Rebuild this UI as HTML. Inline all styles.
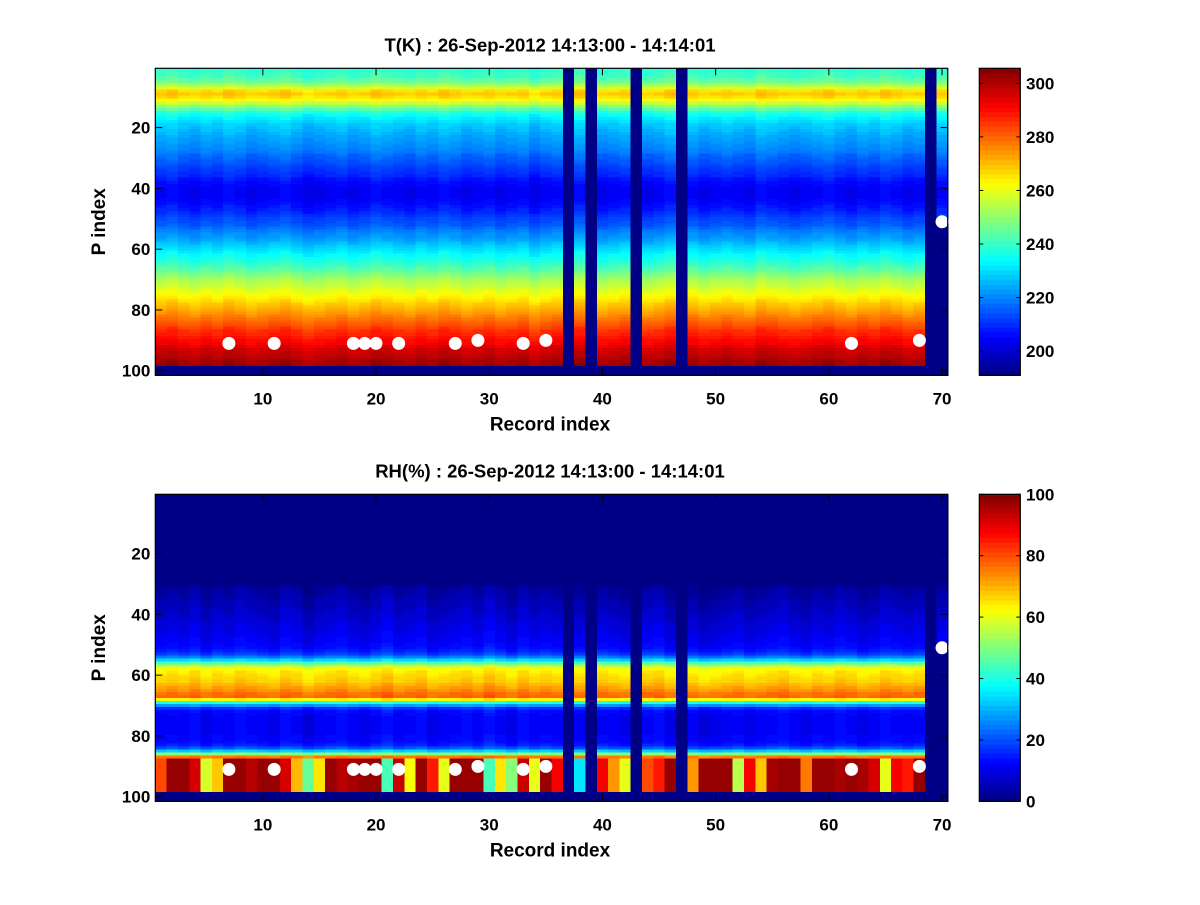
<!DOCTYPE html>
<html><head><meta charset="utf-8"><style>
html,body{margin:0;padding:0;background:#fff;}
svg text{font-family:"Liberation Sans",sans-serif;font-weight:bold;fill:#000;}
</style></head><body>
<svg id="fig" xmlns="http://www.w3.org/2000/svg" width="1200" height="900" viewBox="0 0 1200 900">
<rect width="1200" height="900" fill="#fff"/>
</svg>
<script>
// ---- data ----
const records = Array.from({length:70},(_,i)=>i+1);
const missingCols = [37,39,43,47,69];
const col70LastRow = 51;
const tProfile = [239,240,241,243,246,252,258,266,268,266,262,256,249,243,238,234,232,230,228,227,
226,225,224,223,222,221,220,219,217,216,215,214,212,211,210,209,207,206,205,204,
204,204,204,205,206,207,208,209,211,213,214,215,217,219,221,222,224,226,228,230,
232,234,236,238,240,242,244,247,250,252,254,256,258,260,262,264,266,268,270,272,
274,276,278,280,282,284,286,287,289,291,292,294,296,297,298,300,301,302];
const tColOffset = [1,2,0,-1,1,0,2,1,-1,0,1,2,0,-2,-1,0,1,-1,0,2,1,0,-1,1,0,2,1,-1,0,1,
-1,0,1,-2,0,1,0,2,0,-1,0,1,0,-1,0,2,0,1,-1,0,1,0,-1,2,1,0,-1,0,1,2,0,-1,1,0,2,1,-1,0,0,1];
const rhProfile = [1,1,1,1,1,1,1,1,1,1,1,1,1,1,1,1,1,1,1,1,1,1,1,1,1,1,1,1,1,1,
2,3,3,4,4,5,5,6,6,7,7,8,8,9,9,10,10,11,11,12,13,15,18,24,33,45,55,62,64,65,
66,67,69,71,73,76,77,63,40,27,16,13,12,11,11,11,11,11,11,12,12,13,15,20,32,50,75];
const rhColOffset = [0,1,0,2,-1,1,0,2,1,0,-1,2,1,-2,0,1,2,0,-1,1,3,0,1,2,-1,0,1,2,0,3,
1,-1,2,0,1,0,1,0,2,1,0,-1,0,1,2,-1,0,0,-2,-1,0,1,-1,0,1,2,0,-1,1,0,2,1,-1,0,2,1,0,1,0,1];
const rhBottom = [80,98,98,92,58,68,98,97,95,98,98,92,70,48,65,98,95,96,97,97,45,93,62,98,85,60,98,98,97,45,
65,50,93,60,97,88,0,35,0,88,72,60,0,80,85,98,0,72,98,98,97,55,88,68,96,97,97,75,98,97,96,97,96,92,60,88,85,97,0,0];
const markerRec = [7,11,18,19,20,22,27,29,33,35,62,68,70];
const markerP = [91,91,91,91,91,91,91,90,91,90,91,90,51];
const xTicks = [10,20,30,40,50,60,70];
const yTicks = [20,40,60,80,100];
const tCbTicks = [200,220,240,260,280,300];
const rhCbTicks = [0,20,40,60,80,100];
const nRows = 101, lastValidRow = 98;

// ---- helpers ----
const NS="http://www.w3.org/2000/svg";
const svg=document.getElementById('fig');
function mk(tag,attrs,parent){const e=document.createElementNS(NS,tag);for(const k in attrs)e.setAttribute(k,attrs[k]);(parent||svg).appendChild(e);return e;}
function jet(f){
  f=Math.max(0,Math.min(1,f));
  let i=Math.min(63,Math.floor(f*64)); let v=(i+0.5)/64;
  const c=x=>Math.max(0,Math.min(1,x));
  const r=c(Math.min(4*v-1.5,-4*v+4.5)), g=c(Math.min(4*v-0.5,-4*v+3.5)), b=c(Math.min(4*v+0.5,-4*v+2.5));
  return `rgb(${Math.round(r*255)},${Math.round(g*255)},${Math.round(b*255)})`;
}
const X0=155.3,X1=947.7;
function xs(r){return X0+(r-0.5)*(X1-X0)/70;}

function drawPanel(opts){
  const {top,bottom,vmin,vmax,valueFn,title,cbTicks,name}=opts;
  const ys=p=>top+(p-0.5)*(bottom-top)/nRows;
  const g=mk('g',{});
  
  
  const hm=mk('g',{'shape-rendering':'crispEdges'},g);
  
  
  const cw=(X1-X0)/70;
  for(const r of records){
    for(let p=1;p<=nRows;p++){
      const v=valueFn(r,p);
      const fill = v===null? jet(0) : jet((v-vmin)/(vmax-vmin));
      const cell=mk('rect',{x:xs(r-0.5),y:ys(p-0.5),width:cw+0.6,height:(bottom-top)/nRows+0.6,fill},hm);
      
      
    }
  }
  markerRec.forEach((r,i)=>{
    const m=mk('circle',{cx:xs(r),cy:ys(markerP[i]),r:6.5,fill:'#fff'},g);
    
    
  });
  const box=mk('rect',{x:X0,y:top,width:X1-X0,height:bottom-top,fill:'none',stroke:'#000','stroke-width':1.2},g);
  
  
  xTicks.forEach(t=>{
    const x=xs(t);
    mk('line',{x1:x,x2:x,y1:top,y2:top+7,stroke:'#000'},g);
    mk('line',{x1:x,x2:x,y1:bottom,y2:bottom-7,stroke:'#000'},g);
    const l=mk('text',{x:x,y:bottom+29,'font-size':17,'text-anchor':'middle'},g);l.textContent=t;
    
    
  });
  yTicks.forEach(t=>{
    const y=ys(t);
    mk('line',{x1:X0,x2:X0+7,y1:y,y2:y,stroke:'#000'},g);
    mk('line',{x1:X1,x2:X1-7,y1:y,y2:y,stroke:'#000'},g);
    const l=mk('text',{x:X0-5,y:y+6,'font-size':17,'text-anchor':'end'},g);l.textContent=t;
    
    
  });
  const tt=mk('text',{x:550,y:top-17,'font-size':18.5,'text-anchor':'middle'},g);tt.textContent=title;
  
  
  const xl=mk('text',{x:550,y:bottom+55,'font-size':19,'text-anchor':'middle'},g);xl.textContent='Record index';
  
  
  const yc=(top+bottom)/2;
  const yl=mk('text',{x:105,y:yc,'font-size':19,'text-anchor':'middle',transform:`rotate(-90 105 ${yc})`},g);yl.textContent='P index';
  
  
  const CX0=979.3,CX1=1020.3;
  const cb=mk('g',{'shape-rendering':'crispEdges'},g);
  
  
  const h=(bottom-top)/64;
  for(let i=0;i<64;i++){
    mk('rect',{x:CX0,y:bottom-(i+1)*h,width:CX1-CX0,height:h+0.6,fill:jet((i+0.5)/64)},cb);
  }
  mk('rect',{x:CX0,y:top,width:CX1-CX0,height:bottom-top,fill:'none',stroke:'#000','stroke-width':1.2},g);
  const cy=v=>bottom-(v-vmin)/(vmax-vmin)*(bottom-top);
  cbTicks.forEach(t=>{
    const y=cy(t);
    mk('line',{x1:CX0,x2:CX0+4,y1:y,y2:y,stroke:'#000'},g);
    mk('line',{x1:CX1,x2:CX1-4,y1:y,y2:y,stroke:'#000'},g);
    const l=mk('text',{x:1026,y:y+6,'font-size':17},g);l.textContent=t;
    
    
  });
}
function isMissing(r,p){
  if(p>lastValidRow) return true;
  if(missingCols.includes(r)) return true;
  if(r===70 && p>col70LastRow) return true;
  return false;
}
drawPanel({top:68.3,bottom:375.3,vmin:191,vmax:305.6,name:'temperature',
  title:'T(K) : 26-Sep-2012 14:13:00 - 14:14:01',cbTicks:tCbTicks,
  valueFn:(r,p)=>isMissing(r,p)?null:tProfile[p-1]+tColOffset[r-1]});
drawPanel({top:494.3,bottom:801.3,vmin:0,vmax:100,name:'humidity',
  title:'RH(%) : 26-Sep-2012 14:13:00 - 14:14:01',cbTicks:rhCbTicks,
  valueFn:(r,p)=>{
    if(isMissing(r,p)) return null;
    if(p>=88) return rhBottom[r-1];
    return p>30? rhProfile[p-1]+rhColOffset[r-1] : rhProfile[p-1];
  }});
</script>
</body></html>
